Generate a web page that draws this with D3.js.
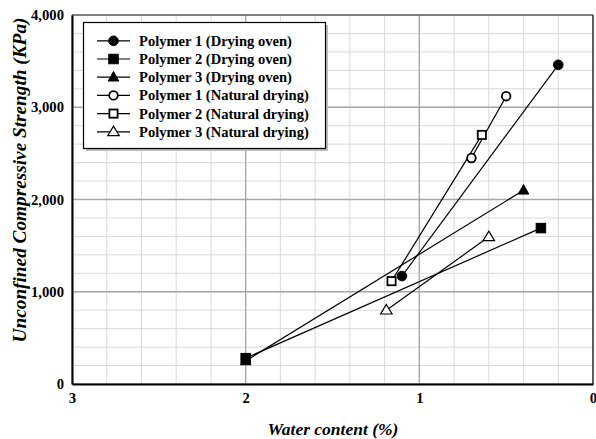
<!DOCTYPE html>
<html>
<head>
<meta charset="utf-8">
<script src="https://cdn.jsdelivr.net/npm/d3@7"></script>
<style>
  html, body { margin: 0; padding: 0; background: #fff; }
  svg { display: block; font-family: "Liberation Serif", "Times New Roman", serif; }
</style>
</head>
<body>
<svg id="chart" width="596" height="439"></svg>
<script>
// Series: water content (%) and unconfined compressive strength (kPa)
const seriesNames = [
  "Polymer 1 (Drying oven)",
  "Polymer 2 (Drying oven)",
  "Polymer 3 (Drying oven)",
  "Polymer 1 (Natural drying)",
  "Polymer 2 (Natural drying)",
  "Polymer 3 (Natural drying)"
];
const p1OvenWater = [1.10, 0.20];
const p1OvenUcs   = [1170, 3460];
const p2OvenWater = [2.00, 0.30];
const p2OvenUcs   = [280, 1690];
const p3OvenWater = [2.00, 0.40];
const p3OvenUcs   = [250, 2100];
const p1NatWater  = [0.70, 0.50];
const p1NatUcs    = [2450, 3120];
const p2NatWater  = [1.16, 0.64];
const p2NatUcs    = [1115, 2700];
const p3NatWater  = [1.19, 0.60];
const p3NatUcs    = [800, 1595];

const xTicks = [3, 2, 1, 0];
const yTicks = [0, 1000, 2000, 3000, 4000];

const markerShapes = ["circle", "square", "triangle", "circle", "square", "triangle"];
const markerFilled = [true, true, true, false, false, false];

const seriesData = [
  [p1OvenWater, p1OvenUcs], [p2OvenWater, p2OvenUcs], [p3OvenWater, p3OvenUcs],
  [p1NatWater, p1NatUcs], [p2NatWater, p2NatUcs], [p3NatWater, p3NatUcs]
].map(([w, u], i) => ({
  name: seriesNames[i],
  shape: markerShapes[i],
  filled: markerFilled[i],
  points: w.map((xv, j) => ({ x: xv, y: u[j] }))
}));

const svg = d3.select("#chart");
const plotL = 72, plotR = 593, plotT = 15, plotB = 384;

const x = d3.scaleLinear().domain([3, 0]).range([plotL, plotR]);
const y = d3.scaleLinear().domain([0, 4000]).range([plotB, plotT]);

// Scale a text's font size so that it spans the given width
function fitWidth(sel, width) {
  const node = sel.node();
  const fs = parseFloat(sel.attr("font-size"));
  const len = node.getComputedTextLength();
  const size = len > 0 ? fs * width / len : fs;
  sel.attr("font-size", size);
  return size;
}

// Grid: minor every 0.2 % / 200 kPa, major at each labelled tick
const minorX = d3.range(0, 3.0001, 0.2);
const minorY = d3.range(0, 4000.1, 200);
const grid = svg.append("g");
grid.selectAll("line.mx").data(minorX).join("line")
  .attr("x1", d => x(d)).attr("x2", d => x(d)).attr("y1", plotT).attr("y2", plotB)
  .attr("stroke", "#d9d9d9").attr("stroke-width", 1);
grid.selectAll("line.my").data(minorY).join("line")
  .attr("x1", plotL).attr("x2", plotR).attr("y1", d => y(d)).attr("y2", d => y(d))
  .attr("stroke", "#d9d9d9").attr("stroke-width", 1);
grid.selectAll("line.Mx").data(xTicks).join("line")
  .attr("x1", d => x(d)).attr("x2", d => x(d)).attr("y1", plotT).attr("y2", plotB)
  .attr("stroke", "#a6a6a6").attr("stroke-width", 1.3);
grid.selectAll("line.My").data(yTicks).join("line")
  .attr("x1", plotL).attr("x2", plotR).attr("y1", d => y(d)).attr("y2", d => y(d))
  .attr("stroke", "#a6a6a6").attr("stroke-width", 1.3);

// Frame: grey top/right, black axes left/bottom
svg.append("line").attr("x1", plotL).attr("x2", plotR).attr("y1", plotT).attr("y2", plotT)
  .attr("stroke", "#6e6e6e").attr("stroke-width", 1.6);
svg.append("line").attr("x1", plotR).attr("x2", plotR).attr("y1", plotT).attr("y2", plotB)
  .attr("stroke", "#333").attr("stroke-width", 1.4);

const xAxis = d3.axisBottom(x).tickValues(xTicks).tickSize(0).tickPadding(9)
  .tickFormat(d3.format("d"));
const yAxis = d3.axisLeft(y).tickValues(yTicks).tickSize(0).tickPadding(8)
  .tickFormat(d3.format(","));

const gx = svg.append("g").attr("transform", `translate(0,${plotB})`).call(xAxis);
const gy = svg.append("g").attr("transform", `translate(${plotL},0)`).call(yAxis);
[gx, gy].forEach(g => {
  g.select(".domain").attr("stroke", "#000").attr("stroke-width", 2);
  g.selectAll("text").attr("font-family", "'Liberation Serif', serif")
    .attr("font-weight", "bold").attr("font-size", 14.5).attr("fill", "#000");
});
// size tick labels from the widest one ("4,000" ≈ 33px)
const tickSize = fitWidth(gy.selectAll("text").filter(d => d === 4000), 33);
gx.selectAll("text").attr("font-size", tickSize);
gy.selectAll("text").attr("font-size", tickSize);

// Lines and markers
const line = d3.line().x(d => x(d.x)).y(d => y(d.y));
const plot = svg.append("g");

function drawMarker(g, shape, filled, cx, cy) {
  const fill = filled ? "#000" : "#fff";
  const sw = filled ? 1 : 1.8;
  if (shape === "circle") {
    g.append("circle").attr("cx", cx).attr("cy", cy).attr("r", filled ? 4.8 : 4.3)
      .attr("fill", fill).attr("stroke", "#000").attr("stroke-width", sw);
  } else if (shape === "square") {
    const s = filled ? 9.5 : 8.2;
    g.append("rect").attr("x", cx - s / 2).attr("y", cy - s / 2).attr("width", s).attr("height", s)
      .attr("fill", fill).attr("stroke", "#000").attr("stroke-width", sw);
  } else {
    const h = 9.5, w = filled ? 10.5 : 11.5;
    g.append("path")
      .attr("d", `M${cx},${cy - h * 0.6}L${cx + w / 2},${cy + h * 0.4}L${cx - w / 2},${cy + h * 0.4}Z`)
      .attr("fill", fill).attr("stroke", "#000").attr("stroke-width", filled ? 1 : 1.2);
  }
}

seriesData.forEach(s => {
  plot.append("path").datum(s.points).attr("d", line)
    .attr("fill", "none").attr("stroke", "#000").attr("stroke-width", 1.2);
});
seriesData.forEach(s => {
  s.points.forEach(p => drawMarker(plot, s.shape, s.filled, x(p.x), y(p.y)));
});

// Legend
const legend = svg.append("g");
legend.append("rect").attr("x", 86).attr("y", 25).attr("width", 242).attr("height", 126)
  .attr("fill", "#bdbdbd");
legend.append("rect").attr("x", 83.5).attr("y", 22.5).attr("width", 242).attr("height", 126)
  .attr("fill", "#fff").attr("stroke", "#000").attr("stroke-width", 1.2);
const legendTexts = [];
seriesData.forEach((s, i) => {
  const ly = 40.8 + i * 18.2;
  legend.append("line").attr("x1", 97).attr("x2", 130).attr("y1", ly).attr("y2", ly)
    .attr("stroke", "#000").attr("stroke-width", 1.2);
  drawMarker(legend, s.shape, s.filled, 113.5, ly);
  legendTexts.push(legend.append("text").attr("x", 139).attr("y", ly).attr("dy", "0.35em")
    .attr("font-weight", "bold").attr("font-size", 14).text(s.name));
});
const legendSize = fitWidth(legendTexts[0], 153);
legendTexts.forEach(t => t.attr("font-size", legendSize));

// Axis titles
const xTitle = svg.append("text").attr("x", 333).attr("y", 435)
  .attr("text-anchor", "middle").attr("font-weight", "bold").attr("font-style", "italic")
  .attr("font-size", 16).text("Water content (%)");
fitWidth(xTitle, 131);
const yTitle = svg.append("text").attr("transform", "translate(26,180) rotate(-90)")
  .attr("text-anchor", "middle").attr("font-weight", "bold").attr("font-style", "italic")
  .attr("font-size", 16).text("Unconfined Compressive Strength (KPa)");
fitWidth(yTitle, 325);
</script>
</body>
</html>
